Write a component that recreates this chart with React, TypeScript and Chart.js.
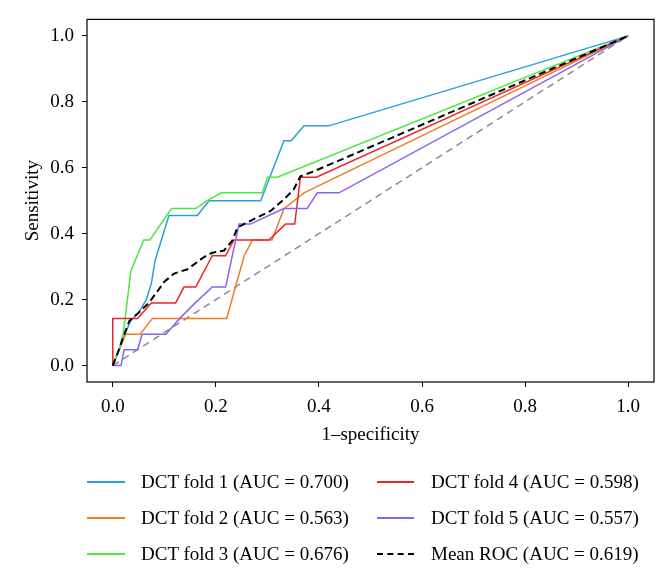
import React, { useEffect, useRef } from "react";
import { Chart, registerables } from "chart.js";

Chart.register(...registerables);

// ---- Data ----
const fold1Fpr = [0, 0.012, 0.022, 0.035, 0.05, 0.065, 0.075, 0.082, 0.109, 0.164, 0.187, 0.287, 0.332, 0.346, 0.371, 0.419, 1];
const fold1Tpr = [0, 0.045, 0.09, 0.136, 0.16, 0.2, 0.25, 0.318, 0.455, 0.455, 0.5, 0.5, 0.682, 0.682, 0.727, 0.727, 1];

const fold2Fpr = [0, 0.012, 0.025, 0.053, 0.077, 0.221, 0.255, 0.271, 0.309, 0.332, 0.371, 1];
const fold2Tpr = [0, 0.048, 0.095, 0.095, 0.143, 0.143, 0.333, 0.381, 0.381, 0.476, 0.524, 1];

const fold3Fpr = [0, 0.012, 0.02, 0.024, 0.035, 0.06, 0.072, 0.114, 0.161, 0.183, 0.211, 0.29, 0.3, 0.319, 1];
const fold3Tpr = [0, 0.048, 0.095, 0.143, 0.286, 0.381, 0.381, 0.476, 0.476, 0.5, 0.524, 0.524, 0.571, 0.571, 1];

const fold4Fpr = [0, 0, 0.048, 0.075, 0.122, 0.138, 0.161, 0.193, 0.219, 0.235, 0.303, 0.335, 0.353, 0.364, 0.395, 1];
const fold4Tpr = [0, 0.143, 0.143, 0.19, 0.19, 0.238, 0.238, 0.333, 0.333, 0.381, 0.381, 0.429, 0.429, 0.571, 0.571, 1];

const fold5Fpr = [0, 0.016, 0.022, 0.048, 0.057, 0.103, 0.13, 0.16, 0.193, 0.219, 0.245, 0.267, 0.332, 0.377, 0.397, 0.439, 1];
const fold5Tpr = [0, 0, 0.048, 0.048, 0.095, 0.095, 0.143, 0.19, 0.238, 0.238, 0.429, 0.429, 0.476, 0.476, 0.524, 0.524, 1];

const meanFpr = [0, 0.01, 0.019, 0.032, 0.05, 0.07, 0.1, 0.119, 0.145, 0.177, 0.193, 0.216, 0.232, 0.242, 0.267, 0.306, 0.332, 0.351, 0.364, 0.39, 1];
const meanTpr = [0, 0.04, 0.08, 0.135, 0.16, 0.19, 0.254, 0.279, 0.292, 0.329, 0.342, 0.349, 0.379, 0.419, 0.439, 0.469, 0.504, 0.534, 0.574, 0.589, 1];

const chanceFpr = [0, 1];
const chanceTpr = [0, 1];

const axisTicks = [0, 0.2, 0.4, 0.6, 0.8, 1.0];

const seriesLabels = [
  "DCT fold 1 (AUC = 0.700)",
  "DCT fold 2 (AUC = 0.563)",
  "DCT fold 3 (AUC = 0.676)",
  "DCT fold 4 (AUC = 0.598)",
  "DCT fold 5 (AUC = 0.557)",
  "Mean ROC (AUC = 0.619)",
];
const seriesColors = ["#2a9fd8", "#f07b24", "#4ce83a", "#e8262b", "#8a62ee", "#000000"];

const xTitle = "1\u2013specificity";
const yTitle = "Sensitivity";

const FONT = "'Liberation Serif', 'DejaVu Serif', serif";

const W = 669;
const H = 574;

function pts(fpr: number[], tpr: number[]) {
  return fpr.map((x, i) => ({ x, y: tpr[i] }));
}

const framePlugin = {
  id: "frame",
  afterDraw(chart: any) {
    const { ctx, chartArea } = chart;
    ctx.save();
    ctx.strokeStyle = "#000";
    ctx.lineWidth = 1.2;
    ctx.strokeRect(chartArea.left, chartArea.top, chartArea.right - chartArea.left, chartArea.bottom - chartArea.top);
    ctx.restore();
  },
};

export default function App() {
  const ref = useRef<HTMLCanvasElement>(null);

  useEffect(() => {
    document.body.style.margin = "0";
    const canvas = ref.current;
    if (!canvas) return;
    const folds = [
      [fold1Fpr, fold1Tpr],
      [fold2Fpr, fold2Tpr],
      [fold3Fpr, fold3Tpr],
      [fold4Fpr, fold4Tpr],
      [fold5Fpr, fold5Tpr],
    ];
    const datasets: any[] = [
      {
        label: "chance",
        data: pts(chanceFpr, chanceTpr),
        borderColor: "#8c8c8c",
        borderDash: [7, 5],
        borderWidth: 1.5,
        showLine: true,
        pointRadius: 0,
        order: 10,
      },
    ];
    folds.forEach(([f, t], i) => {
      datasets.push({
        label: seriesLabels[i],
        data: pts(f, t),
        borderColor: seriesColors[i],
        borderWidth: 1.5,
        showLine: true,
        pointRadius: 0,
        order: 5 - i,
      });
    });
    datasets.push({
      label: seriesLabels[5],
      data: pts(meanFpr, meanTpr),
      borderColor: "#000",
      borderDash: [7, 4],
      borderWidth: 2,
      showLine: true,
      pointRadius: 0,
      order: 0,
    });

    const tickFont = { family: FONT, size: 19 };
    const chart = new Chart(canvas, {
      type: "scatter",
      data: { datasets },
      options: {
        responsive: false,
        animation: false,
        layout: { padding: { left: 0, right: 15, top: 14, bottom: H - 382 - 70 } },
        plugins: { legend: { display: false }, tooltip: { enabled: false } },
        scales: {
          x: {
            type: "linear",
            min: -0.05,
            max: 1.05,
            afterBuildTicks: (s: any) => {
              s.ticks = axisTicks.map((v) => ({ value: v }));
            },
            afterFit: (s: any) => {
              s.height = 70;
            },
            grid: { drawOnChartArea: false, drawTicks: true, tickLength: 5, color: "#000" },
            border: { display: false },
            ticks: {
              color: "#000",
              font: tickFont,
              padding: 9,
              maxRotation: 0,
              callback: (v: any) => Number(v).toFixed(1),
            },
            title: { display: true, text: xTitle, color: "#000", font: tickFont, padding: { top: 0, bottom: 6 } },
          },
          y: {
            type: "linear",
            min: -0.05,
            max: 1.05,
            afterBuildTicks: (s: any) => {
              s.ticks = axisTicks.map((v) => ({ value: v }));
            },
            afterFit: (s: any) => {
              s.width = 87;
            },
            grid: { drawOnChartArea: false, drawTicks: true, tickLength: 5, color: "#000" },
            border: { display: false },
            ticks: {
              color: "#000",
              font: tickFont,
              padding: 8,
              callback: (v: any) => Number(v).toFixed(1),
            },
            title: { display: true, text: yTitle, color: "#000", font: tickFont, padding: { top: 22, bottom: 0 } },
          },
        },
      },
      plugins: [framePlugin],
    });
    return () => chart.destroy();
  }, []);

  const legendRows = [482, 518, 554];
  const cols = [
    { lineL: 87, lineR: 125, text: 141 },
    { lineL: 377, lineR: 414, text: 431 },
  ];

  return (
    <div style={{ position: "relative", width: W, height: H, overflow: "hidden", background: "#fff" }}>
      <canvas ref={ref} width={W} height={H} style={{ position: "absolute", left: 0, top: 0 }} />
      {seriesLabels.map((lab, i) => {
        const col = cols[Math.floor(i / 3)];
        const y = legendRows[i % 3];
        const dashed = i === 5;
        return (
          <React.Fragment key={lab}>
            <div
              style={{
                position: "absolute",
                left: col.lineL,
                top: y - 1,
                width: col.lineR - col.lineL,
                height: 0,
                borderTop: dashed ? `2px dashed ${seriesColors[i]}` : `2px solid ${seriesColors[i]}`,
              }}
            />
            <div
              style={{
                position: "absolute",
                left: col.text,
                top: y - 12,
                height: 24,
                lineHeight: "24px",
                fontFamily: FONT,
                fontSize: 19,
                color: "#000",
                whiteSpace: "nowrap",
              }}
            >
              {lab}
            </div>
          </React.Fragment>
        );
      })}
    </div>
  );
}
